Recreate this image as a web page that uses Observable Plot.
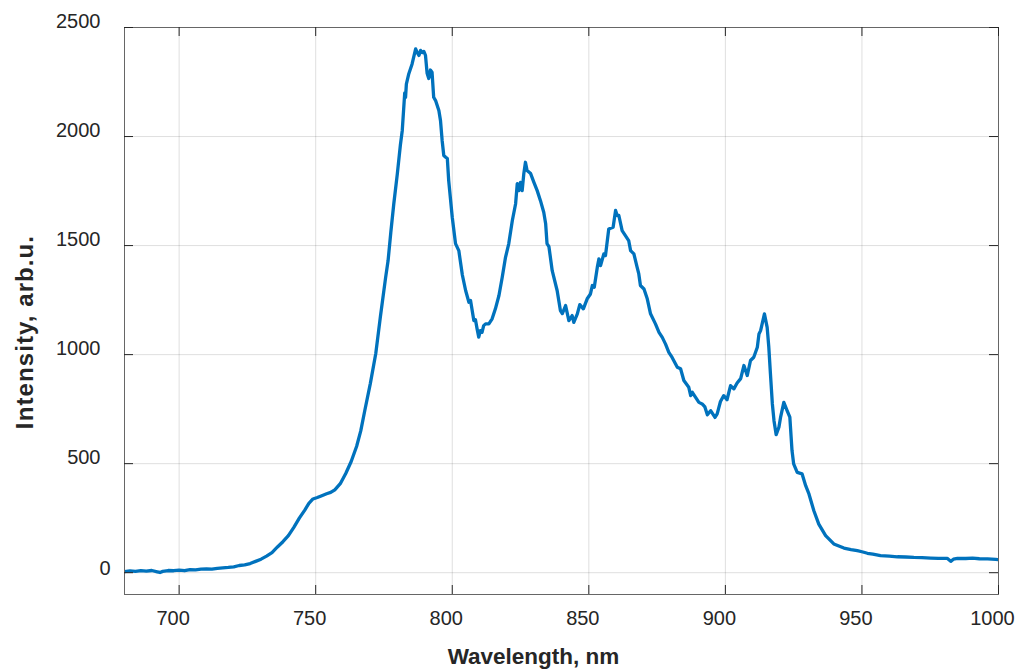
<!DOCTYPE html>
<html>
<head>
<meta charset="utf-8">
<script src="https://cdn.jsdelivr.net/npm/d3@7"></script>
<script src="https://cdn.jsdelivr.net/npm/@observablehq/plot@0.6"></script>
<style>
  html, body { margin: 0; padding: 0; background: #fff; }
  .ylab text { letter-spacing: 1.1px; }
</style>
</head>
<body>
<div id="chart"></div>
<script>
const xLabel = "Wavelength, nm";
const yLabel = "Intensity, arb.u.";
const xTicks = [700, 750, 800, 850, 900, 950, 1000];
const yTicks = [0, 500, 1000, 1500, 2000, 2500];

const wavelength = [
  680,682,684,686,688,690,692,693,694,696,
  698,700,702,704,706,708,710,712,714,716,
  718,720,722,724,726,728,730,732,734,736,
  738,740,742,744,746,747.5,749,750.6,752,754,
  755.5,757,759,761,763,765,766.5,768,770,772,
  773.7,775.6,776.5,777.5,778.6,779.9,781,781.7,782.6,782.9,
  783.2,784.1,785.3,786.6,787.2,787.8,788.4,789,789.6,790.2,
  790.8,791.4,792,792.6,793.2,793.9,795.1,795.7,796.3,796.9,
  797.6,798.2,798.7,800,801.2,802.4,803.7,804.9,806.1,806.7,
  807.3,807.9,808.5,809.1,809.7,810.3,810.9,811.5,812.2,813.4,
  814.6,815.8,817.1,818.3,819.5,820.7,822,823.2,823.8,824.4,
  825,825.6,826.2,826.8,827.4,828.7,829.9,831.1,832.3,833.5,
  834.2,834.7,835.4,836.6,838.4,839.6,840.3,841.5,842.7,843.9,
  844.5,845.8,846.7,848,849.4,850.6,851.3,852,853.1,853.7,
  854.3,855.5,856.1,857.3,858.9,859.8,860.4,861,862.2,863.4,
  864.6,865.3,866.5,867.7,868.3,868.9,870.2,871.4,872.6,874.4,
  875.7,876.9,878.1,879.3,880.5,882.4,883.6,884.8,886.6,887.3,
  887.9,889.1,890.3,891.5,892.5,893.4,894.6,896.2,897,898.2,
  899.4,900.6,901.9,903.1,904.3,905.6,906.8,908,909.2,910.4,
  911.7,912.3,912.9,914.3,915.3,915.9,916.5,917.2,917.8,918.6,
  919.6,920.2,921.4,922.6,923.6,924.4,925,926.3,928.1,929.4,
  930.6,932.4,934.2,936.7,939.7,943.4,946,948.3,950,952,
  954,956.8,960,963,966,969,972,975.2,978,981.2,
  982.5,983.5,985,988,990.5,993,996,999,1000
];

const intensity = [
  5,8,6,9,7,10,4,1,6,10,
  9,12,9,14,13,16,17,16,20,22,
  24,27,33,36,42,52,62,76,92,118,
  142,170,208,250,287,318,338,345,352,362,
  368,380,408,455,510,580,650,745,867,1005,
  1175,1353,1430,1560,1692,1830,1960,2028,2200,2180,
  2240,2288,2333,2402,2385,2372,2395,2385,2390,2372,
  2290,2266,2305,2295,2180,2165,2119,2073,1982,1913,
  1905,1899,1798,1630,1509,1477,1365,1294,1240,1248,
  1202,1156,1160,1118,1080,1110,1102,1133,1141,1141,
  1164,1210,1271,1355,1446,1509,1615,1692,1784,1752,
  1790,1752,1830,1882,1844,1830,1790,1752,1706,1653,
  1600,1509,1495,1385,1294,1202,1188,1225,1156,1179,
  1148,1187,1229,1210,1256,1278,1317,1309,1400,1439,
  1408,1462,1454,1576,1584,1661,1638,1638,1569,1546,
  1523,1477,1462,1400,1370,1317,1301,1256,1187,1141,
  1102,1079,1048,1010,987,942,935,881,850,812,
  827,804,781,774,760,724,743,712,728,785,
  812,793,858,843,870,890,950,904,973,988,
  1034,1095,1110,1187,1125,1034,912,774,697,633,
  667,712,781,743,713,560,499,460,453,399,
  361,284,223,170,132,113,106,101,96,89,
  85,78,76,73,72,70,69,67,66,66,
  52,62,66,65,67,64,63,61,60
];

const data = wavelength.map((w, i) => ({w, v: intensity[i]}));

const W = 1015, H = 671;
const mL = 124, mR = 17, mT = 27, mB = 77;
const fw = W - mL - mR, fh = H - mT - mB;
const tickLen = 9;
const fmt = d => String(d);

const chart = Plot.plot({
  width: W,
  height: H,
  marginLeft: mL,
  marginRight: mR,
  marginTop: mT,
  marginBottom: mB,
  x: {domain: [680, 1000]},
  y: {domain: [-100, 2500]},
  style: {
    fontFamily: "'Liberation Sans', Arial, Helvetica, sans-serif",
    fontSize: "20px",
    color: "#262626",
    background: "#fff",
    overflow: "visible"
  },
  marks: [
    Plot.ruleX(xTicks, {stroke: "#262626", strokeOpacity: 0.15, strokeWidth: 1}),
    Plot.ruleY(yTicks, {stroke: "#262626", strokeOpacity: 0.15, strokeWidth: 1}),
    Plot.line(data, {x: "w", y: "v", stroke: "#0072BD", strokeWidth: 3.3, strokeLinejoin: "round", clip: true}),
    Plot.frame({stroke: "#666", strokeWidth: 1}),
    Plot.ruleX(xTicks, {stroke: "#262626", insetTop: fh - tickLen}),
    Plot.ruleX(xTicks, {stroke: "#262626", insetBottom: fh - tickLen}),
    Plot.ruleY(yTicks, {stroke: "#262626", insetRight: fw - tickLen}),
    Plot.ruleY(yTicks, {stroke: "#262626", insetLeft: fw - tickLen}),
    Plot.axisX(xTicks, {tickSize: 0, tickPadding: 16, dx: -6, label: null, tickFormat: fmt, fontSize: 20}),
    Plot.axisY(yTicks.filter(d => d !== 0), {tickSize: 0, tickPadding: 24, dy: -6, label: null, tickFormat: fmt, fontSize: 20}),
    Plot.axisY([0], {tickSize: 0, tickPadding: 14, dy: -4.5, label: null, tickFormat: fmt, fontSize: 20}),
    Plot.text([xLabel], {frameAnchor: "bottom", textAnchor: "middle", lineAnchor: "bottom", dx: -28, dy: 69, fontWeight: "bold", fontSize: 22.5, fill: "#262626"}),
    Plot.text([yLabel], {frameAnchor: "left", textAnchor: "middle", lineAnchor: "middle", rotate: -90, dx: -99, dy: 21, fontWeight: "bold", fontSize: 24, fill: "#262626", className: "ylab"})
  ]
});

document.getElementById("chart").appendChild(chart);
</script>
</body>
</html>
